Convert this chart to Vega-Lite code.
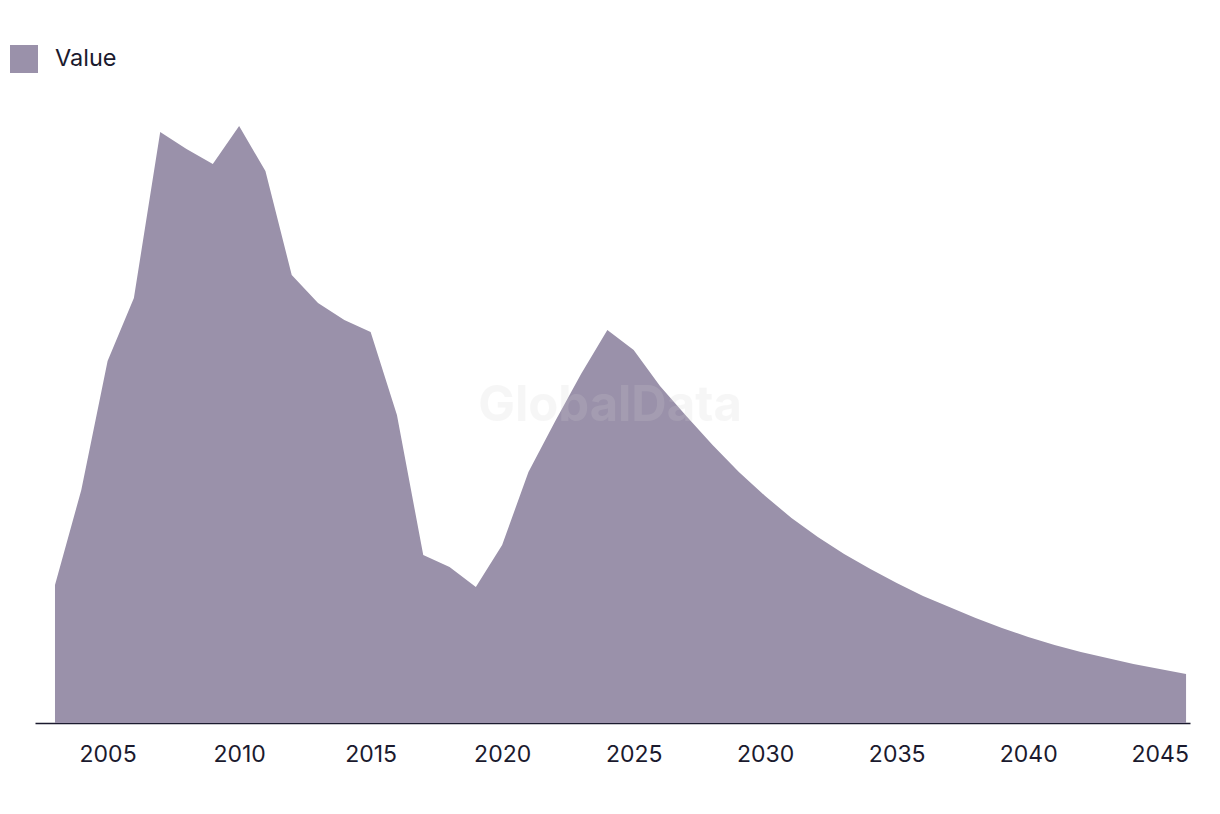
{
  "$schema": "https://vega.github.io/schema/vega-lite/v6.json",
  "width": 1155,
  "height": 623,
  "autosize": {"type": "none"},
  "padding": {"left": 35, "top": 100, "right": 30, "bottom": 91},
  "background": "white",
  "config": {
    "view": {"stroke": null},
    "font": "Inter"
  },
  "layer": [
    {
      "data": {
        "values": [
          {"year": 2003, "value": 138, "series": "Value"},
          {"year": 2004, "value": 233, "series": "Value"},
          {"year": 2005, "value": 362, "series": "Value"},
          {"year": 2006, "value": 425, "series": "Value"},
          {"year": 2007, "value": 591, "series": "Value"},
          {"year": 2008, "value": 574, "series": "Value"},
          {"year": 2009, "value": 559, "series": "Value"},
          {"year": 2010, "value": 597, "series": "Value"},
          {"year": 2011, "value": 552, "series": "Value"},
          {"year": 2012, "value": 448, "series": "Value"},
          {"year": 2013, "value": 420, "series": "Value"},
          {"year": 2014, "value": 403, "series": "Value"},
          {"year": 2015, "value": 391, "series": "Value"},
          {"year": 2016, "value": 308, "series": "Value"},
          {"year": 2017, "value": 168, "series": "Value"},
          {"year": 2018, "value": 156, "series": "Value"},
          {"year": 2019, "value": 136, "series": "Value"},
          {"year": 2020, "value": 178, "series": "Value"},
          {"year": 2021, "value": 251, "series": "Value"},
          {"year": 2022, "value": 301, "series": "Value"},
          {"year": 2023, "value": 349, "series": "Value"},
          {"year": 2024, "value": 393, "series": "Value"},
          {"year": 2025, "value": 373, "series": "Value"},
          {"year": 2026, "value": 337, "series": "Value"},
          {"year": 2027, "value": 307, "series": "Value"},
          {"year": 2028, "value": 278, "series": "Value"},
          {"year": 2029, "value": 251, "series": "Value"},
          {"year": 2030, "value": 227, "series": "Value"},
          {"year": 2031, "value": 205, "series": "Value"},
          {"year": 2032, "value": 186, "series": "Value"},
          {"year": 2033, "value": 169, "series": "Value"},
          {"year": 2034, "value": 154, "series": "Value"},
          {"year": 2035, "value": 140, "series": "Value"},
          {"year": 2036, "value": 127, "series": "Value"},
          {"year": 2037, "value": 116, "series": "Value"},
          {"year": 2038, "value": 105, "series": "Value"},
          {"year": 2039, "value": 95, "series": "Value"},
          {"year": 2040, "value": 86, "series": "Value"},
          {"year": 2041, "value": 78, "series": "Value"},
          {"year": 2042, "value": 71, "series": "Value"},
          {"year": 2043, "value": 65, "series": "Value"},
          {"year": 2044, "value": 59, "series": "Value"},
          {"year": 2045, "value": 54, "series": "Value"},
          {"year": 2046, "value": 49, "series": "Value"}
        ]
      },
      "mark": {"type": "area", "opacity": 1},
      "encoding": {
        "x": {
          "field": "year",
          "type": "quantitative",
          "scale": {"domain": [2002.24, 2046.15], "nice": false, "zero": false},
          "axis": {
            "title": null,
            "values": [2005, 2010, 2015, 2020, 2025, 2030, 2035, 2040, 2045],
            "format": "d",
            "ticks": false,
            "grid": false,
            "domainColor": "#1b1a2e",
            "domainWidth": 1.5,
            "labelFontSize": 23,
            "labelColor": "#1b1a2e",
            "labelPadding": 20,
            "labelFont": "Inter"
          }
        },
        "y": {
          "field": "value",
          "type": "quantitative",
          "scale": {"domain": [0, 623], "nice": false},
          "axis": null
        },
        "color": {
          "field": "series",
          "type": "nominal",
          "scale": {"range": ["#9a91aa"]},
          "legend": {
            "title": null,
            "orient": "none",
            "legendX": -25,
            "legendY": -55,
            "symbolType": "square",
            "symbolSize": 784,
            "symbolStrokeWidth": 0,
            "symbolOpacity": 1,
            "labelFontSize": 23.5,
            "labelColor": "#1b1a2e",
            "labelFont": "Inter",
            "labelOffset": 17
          }
        }
      }
    },
    {
      "data": {"values": [{"label": "GlobalData"}]},
      "mark": {
        "type": "text",
        "fontSize": 49,
        "fontWeight": "bold",
        "font": "Inter",
        "color": "#d2d2d2",
        "opacity": 0.18,
        "align": "center",
        "baseline": "middle"
      },
      "encoding": {
        "text": {"field": "label"},
        "x": {"datum": 2024.1, "type": "quantitative"},
        "y": {"datum": 317, "type": "quantitative"}
      }
    }
  ]
}
